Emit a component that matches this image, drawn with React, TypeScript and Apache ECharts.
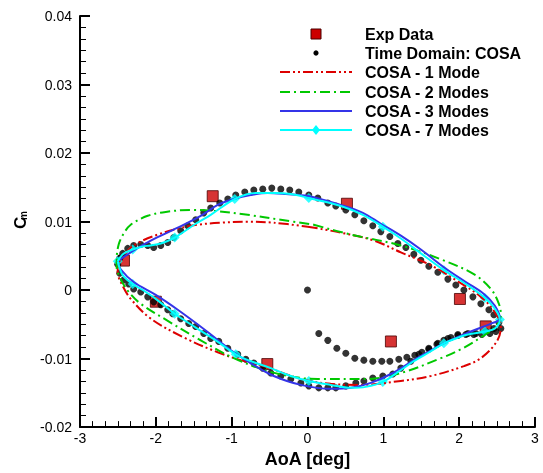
import React, { useEffect, useRef } from "react";
import * as echarts from "echarts";

// ---- Data (AoA [deg], Cm) ----
const expData: [number, number][] = [
  [-2.42, 0.0043], [-1.25, 0.0137], [0.52, 0.0126], [2.01, -0.0013],
  [2.35, -0.0053], [1.1, -0.0075], [-0.53, -0.0108], [-2.0, -0.0017],
];

const timeDomain: [number, number][] = [
  [0.0, 0.0], [0.149, -0.00633], [0.268, -0.00734], [0.387, -0.0085], [0.505, -0.00922],
  [0.624, -0.00994], [0.743, -0.01023], [0.861, -0.01038], [0.98, -0.01038], [1.086, -0.01038],
  [1.204, -0.01009], [1.31, -0.0098], [1.415, -0.00951], [1.508, -0.00908], [1.6, -0.0085],
  [1.706, -0.00792], [1.798, -0.00734], [1.891, -0.00691], [1.983, -0.00662], [2.088, -0.00648],
  [2.193, -0.00648], [2.299, -0.00648], [2.405, -0.00633], [2.484, -0.00605],
  [2.55, -0.00561], [2.524, -0.00474], [2.458, -0.00359], [2.392, -0.00287], [2.286, -0.00201],
  [2.181, -0.00099], [2.062, 0.00001], [1.956, 0.00074], [1.851, 0.0016], [1.719, 0.00261],
  [1.6, 0.00348], [1.495, 0.00434], [1.402, 0.00521], [1.297, 0.00622], [1.191, 0.0068],
  [1.086, 0.00781], [0.967, 0.00853], [0.861, 0.00939], [0.743, 0.01011], [0.624, 0.01098],
  [0.505, 0.0117], [0.373, 0.01228], [0.268, 0.01271], [0.136, 0.01343], [0.017, 0.01387],
  [-0.115, 0.0143], [-0.234, 0.01459], [-0.352, 0.01473], [-0.471, 0.01488], [-0.59, 0.01473],
  [-0.708, 0.01459], [-0.827, 0.0143], [-0.946, 0.01387], [-1.051, 0.01329], [-1.157, 0.01271],
  [-1.276, 0.01199], [-1.368, 0.01127], [-1.474, 0.01026], [-1.579, 0.00939], [-1.672, 0.00867],
  [-1.764, 0.00766], [-1.843, 0.00694], [-1.935, 0.00651], [-2.028, 0.00622], [-2.107, 0.00651],
  [-2.199, 0.00665], [-2.292, 0.00651], [-2.371, 0.00608], [-2.437, 0.00535], [-2.477, 0.00463],
  [-2.503, 0.00377],
  [-2.476, 0.00247], [-2.424, 0.00146], [-2.358, 0.00088], [-2.292, 0.00016], [-2.199, -0.00027],
  [-2.107, -0.00099], [-2.028, -0.00172], [-1.935, -0.00215], [-1.843, -0.00287], [-1.777, -0.00346],
  [-1.672, -0.00418], [-1.566, -0.00489], [-1.474, -0.00532], [-1.368, -0.00633], [-1.276, -0.00706],
  [-1.17, -0.00749], [-1.051, -0.0085], [-0.92, -0.00937], [-0.814, -0.01009], [-0.708, -0.01066],
  [-0.59, -0.01139], [-0.484, -0.01211], [-0.352, -0.01254], [-0.22, -0.01297], [-0.088, -0.01355],
  [0.017, -0.01398], [0.149, -0.01427], [0.268, -0.01427], [0.373, -0.01427], [0.505, -0.01398],
  [0.637, -0.01355], [0.743, -0.01326], [0.861, -0.01283], [0.993, -0.01254], [1.125, -0.01225],
  [1.231, -0.01139], [1.363, -0.01038], [1.468, -0.00937], [1.6, -0.00864], [1.719, -0.00778],
  [1.851, -0.00706], [1.983, -0.00648], [2.115, -0.00633], [2.22, -0.00633], [2.352, -0.00605],
  [2.458, -0.00561],
];

const cosa1: [number, number][] = [
  [0.004, 0.00925], [0.439, 0.00838], [0.875, 0.00723], [1.231, 0.0055], [1.627, 0.00362],
  [1.956, 0.00146], [2.286, -0.00099], [2.458, -0.00301], [2.55, -0.00532], [2.497, -0.00749],
  [2.286, -0.00994], [2.062, -0.0111], [1.627, -0.01254], [1.231, -0.01326], [0.703, -0.01384],
  [0.307, -0.01369], [-0.088, -0.01297], [-0.577, -0.0111], [-0.88, -0.01023], [-1.183, -0.00908],
  [-1.632, -0.00691], [-2.067, -0.00417], [-2.331, -0.00128], [-2.45, 0.00088], [-2.503, 0.00261],
  [-2.503, 0.00362], [-2.424, 0.00492], [-2.331, 0.00622], [-2.173, 0.00723], [-1.975, 0.0081],
  [-1.711, 0.00896], [-1.447, 0.00954], [-1.144, 0.00983], [-0.788, 0.00997], [-0.445, 0.00983],
  [0.004, 0.00925],
];

const cosa2: [number, number][] = [
  [0.083, 0.00954], [0.571, 0.0081], [1.231, 0.00651], [1.759, 0.00449], [2.193, 0.00232],
  [2.418, 0.00016], [2.524, -0.00201], [2.55, -0.0036], [2.484, -0.00532], [2.286, -0.00691],
  [2.023, -0.00864], [1.759, -0.00994], [1.231, -0.01211], [0.796, -0.01297], [0.136, -0.01297],
  [-0.088, -0.01283], [-0.524, -0.01182], [-0.972, -0.00994], [-1.408, -0.00734], [-1.869, -0.00432],
  [-2.199, -0.00201], [-2.358, -0.00027], [-2.463, 0.0016], [-2.516, 0.00333], [-2.516, 0.00449],
  [-2.49, 0.00665], [-2.424, 0.00824], [-2.331, 0.00954], [-2.107, 0.01084], [-1.869, 0.01141],
  [-1.539, 0.0117], [-1.236, 0.01156], [-0.788, 0.01098], [-0.352, 0.01026], [0.083, 0.00954],
];

const cosa3: [number, number][] = [
  [-2.503, 0.0042], [-2.292, 0.00579], [-2.067, 0.00723], [-1.711, 0.00911], [-1.408, 0.01084],
  [-1.183, 0.01242], [-0.972, 0.01329], [-0.748, 0.01387], [-0.524, 0.01416], [-0.286, 0.01401],
  [0.004, 0.01372], [0.439, 0.01242], [0.73, 0.01127], [0.967, 0.00968], [1.231, 0.00795],
  [1.495, 0.00593], [1.798, 0.00333], [2.088, 0.00117], [2.326, -0.00056], [2.471, -0.00229],
  [2.537, -0.00417], [2.418, -0.00489], [2.154, -0.00605], [1.798, -0.00778], [1.561, -0.00922],
  [1.402, -0.01023], [1.099, -0.01225], [0.835, -0.01355], [0.571, -0.01427], [0.307, -0.01442],
  [-0.088, -0.01384], [-0.445, -0.01254], [-0.708, -0.01095], [-0.972, -0.00908], [-1.342, -0.0059],
  [-1.711, -0.00288], [-2.001, -0.00071], [-2.292, 0.00117], [-2.463, 0.00304], [-2.503, 0.0042],
];

const cosa7: [number, number][] = [
  [-2.503, 0.0042], [-2.45, 0.00506], [-2.397, 0.0055], [-2.305, 0.00593], [-2.173, 0.00636],
  [-2.067, 0.00651], [-1.935, 0.0068], [-1.751, 0.00766], [-1.474, 0.00968], [-1.276, 0.01098],
  [-0.959, 0.01329], [-0.682, 0.01416], [-0.445, 0.01416], [-0.22, 0.01401], [0.017, 0.01343],
  [0.439, 0.01228], [0.73, 0.01098], [0.993, 0.00925], [1.231, 0.00752], [1.495, 0.00535],
  [1.798, 0.0029], [2.088, 0.00088], [2.339, -0.00114], [2.471, -0.00273], [2.537, -0.00431],
  [2.471, -0.00561], [2.339, -0.00605], [2.115, -0.00648], [1.956, -0.00706], [1.798, -0.00778],
  [1.627, -0.00893], [1.402, -0.01038], [1.231, -0.01167], [0.993, -0.01341], [0.769, -0.01413],
  [0.571, -0.01427], [0.307, -0.01384], [0.017, -0.01326], [-0.22, -0.01254], [-0.484, -0.01139],
  [-0.748, -0.01038], [-0.946, -0.00937], [-1.21, -0.00734], [-1.474, -0.00547], [-1.751, -0.00346],
  [-2.001, -0.00128], [-2.173, 0.00001], [-2.305, 0.00088], [-2.437, 0.00218], [-2.503, 0.0042],
];

const cosa7Markers: [number, number][] = [
  [-2.503, 0.0042], [-2.305, 0.00593], [-1.751, 0.00766], [-0.959, 0.01329], [0.017, 0.01343],
  [0.993, 0.00925], [1.798, 0.0029], [2.339, -0.00114], [2.537, -0.00431], [2.339, -0.00605],
  [1.798, -0.00778], [0.993, -0.01341], [0.017, -0.01326], [-0.946, -0.00937], [-1.751, -0.00346],
  [-2.305, 0.00088],
];

const seriesNames = [
  "Exp Data",
  "Time Domain: COSA",
  "COSA - 1 Mode",
  "COSA - 2 Modes",
  "COSA - 3 Modes",
  "COSA - 7 Modes",
];

const xAxisTitle = "AoA [deg]";

// ---- styles ----
const FONT = "'Liberation Sans', Arial, Helvetica, sans-serif";
const RED = "#dd0000";
const GREEN = "#00c800";
const BLUE = "#3434e8";
const CYAN = "#00ffff";
const AXIS = "#000000";

export default function App() {
  const ref = useRef<HTMLDivElement>(null);

  useEffect(() => {
    if (!ref.current) return;
    const chart = echarts.init(ref.current, null, { renderer: "svg" });

    const rows = [34, 53, 72, 92, 111, 130];
    const lx1 = 280, lx2 = 352, lsx = 316, ltx = 365;
    const g: any[] = [];
    g.push({
      type: "rect",
      shape: { x: lsx - 5, y: rows[0] - 5, width: 10, height: 10 },
      style: { fill: "#cc0000", stroke: "#4a0000", lineWidth: 1 },
    });
    g.push({ type: "circle", shape: { cx: lsx, cy: rows[1], r: 2.6 }, style: { fill: "#000" } });
    const lineStyles = [
      { stroke: RED, lineDash: [10, 3, 2, 3, 2, 3] },
      { stroke: GREEN, lineDash: [10, 4, 2, 4] },
      { stroke: BLUE },
      { stroke: CYAN },
    ];
    lineStyles.forEach((s, i) => {
      g.push({
        type: "line",
        shape: { x1: lx1, y1: rows[i + 2], x2: lx2, y2: rows[i + 2] },
        style: { lineWidth: 2, ...s },
      });
    });
    g.push({
      type: "polygon",
      shape: { points: [[lsx, rows[5] - 5], [lsx + 4, rows[5]], [lsx, rows[5] + 5], [lsx - 4, rows[5]]] },
      style: { fill: CYAN },
    });
    seriesNames.forEach((n, i) => {
      g.push({
        type: "text", x: ltx, y: rows[i] - 8,
        style: { text: n, fill: "#000", font: `bold 16px ${FONT}` },
      });
    });
    g.push({
      type: "text", x: 12, y: 229, rotation: Math.PI / 2,
      style: { text: "C", fill: "#000", font: `bold 17px ${FONT}` },
    });
    g.push({
      type: "text", x: 18, y: 220, rotation: Math.PI / 2,
      style: { text: "m", fill: "#000", font: `bold 10px ${FONT}` },
    });

    chart.setOption({
      animation: false,
      grid: { left: 80, right: 8, top: 16, bottom: 41 },
      xAxis: {
        type: "value",
        min: -3, max: 3, interval: 1,
        splitLine: { show: false },
        axisLine: { show: true, onZero: false, lineStyle: { color: AXIS, width: 2 } },
        axisTick: { show: true, inside: true, length: 10, lineStyle: { color: AXIS, width: 2 } },
        minorTick: { show: true, splitNumber: 6, length: 6, lineStyle: { color: AXIS, width: 1 } },
        axisLabel: { color: "#000", fontSize: 14, fontFamily: FONT, margin: 4 },
        name: xAxisTitle,
        nameLocation: "middle",
        nameGap: 14,
        nameTextStyle: { color: "#000", fontSize: 18, fontWeight: "bold", fontFamily: FONT },
      },
      yAxis: {
        type: "value",
        min: -0.02, max: 0.04, interval: 0.01,
        splitLine: { show: false },
        axisLine: { show: true, onZero: false, lineStyle: { color: AXIS, width: 2 } },
        axisTick: { show: true, inside: true, length: 10, lineStyle: { color: AXIS, width: 2 } },
        minorTick: { show: true, splitNumber: 6, length: 6, lineStyle: { color: AXIS, width: 1 } },
        axisLabel: {
          color: "#000", fontSize: 14, fontFamily: FONT, margin: 8,
          formatter: (v: number) => (Math.abs(v) < 1e-9 ? "0" : v.toFixed(2)),
        },
      },
      graphic: g,
      series: [
        {
          name: seriesNames[0], type: "scatter", data: expData, symbol: "rect", symbolSize: 11,
          itemStyle: { color: "#cc0000", borderColor: "#4a0000", borderWidth: 1 },
        },
        {
          name: seriesNames[1], type: "scatter", data: timeDomain, symbol: "circle", symbolSize: 7,
          itemStyle: { color: "#000" },
        },
        {
          name: seriesNames[2], type: "line", data: cosa1, symbol: "none", smooth: 0.35,
          lineStyle: { color: RED, width: 2, type: [10, 3, 2, 3, 2, 3] },
        },
        {
          name: seriesNames[3], type: "line", data: cosa2, symbol: "none", smooth: 0.35,
          lineStyle: { color: GREEN, width: 2, type: [10, 4, 2, 4] },
        },
        {
          name: seriesNames[4], type: "line", data: cosa3, symbol: "none", smooth: 0.35,
          lineStyle: { color: BLUE, width: 2 },
        },
        {
          name: seriesNames[5], type: "line", data: cosa7, symbol: "none", smooth: 0.35,
          lineStyle: { color: CYAN, width: 2 },
        },
        {
          name: "COSA - 7 Modes (symbols)", type: "scatter", data: cosa7Markers, symbol: "diamond",
          symbolSize: 10, itemStyle: { color: CYAN },
        },
      ],
    });

    return () => chart.dispose();
  }, []);

  return <div ref={ref} style={{ position: "fixed", left: 0, top: 0, width: 543, height: 473 }} />;
}
